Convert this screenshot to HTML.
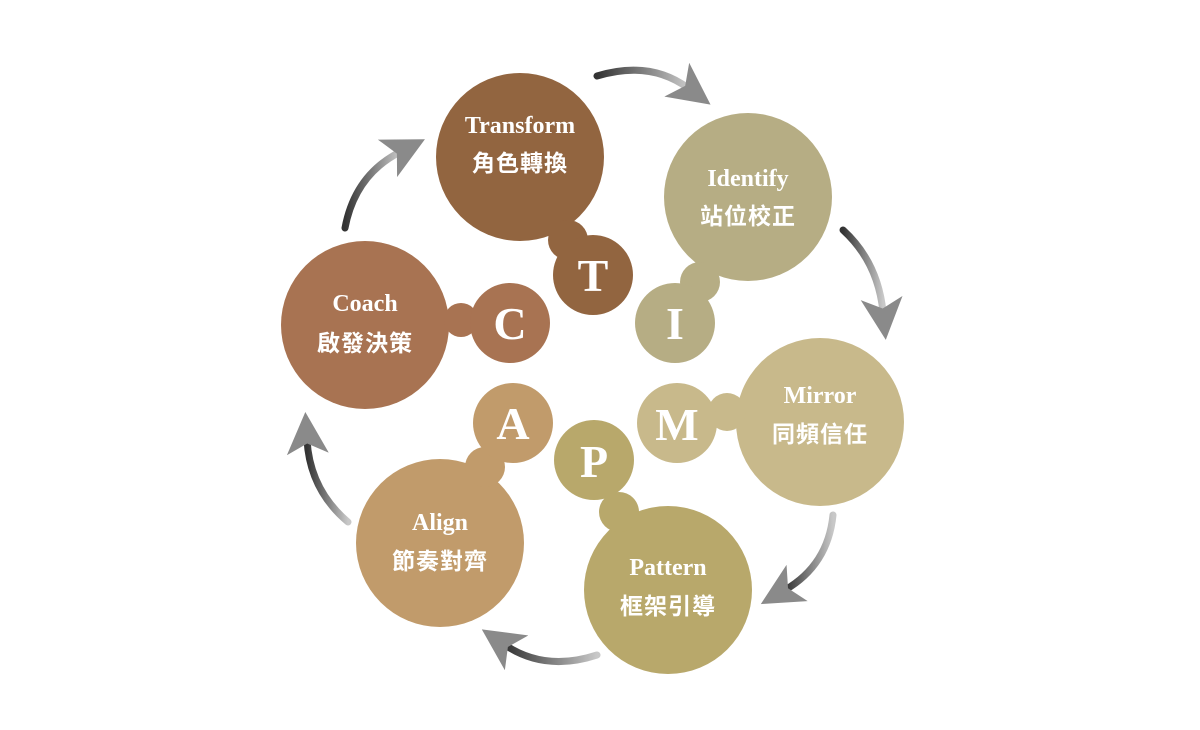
<!DOCTYPE html>
<html><head><meta charset="utf-8"><style>
html,body{margin:0;padding:0;background:#fff;width:1200px;height:730px;overflow:hidden}
svg{display:block}
.en{font-family:"Liberation Serif",serif;font-weight:bold;font-size:24px;fill:#fff}
.zh{font-family:"Liberation Sans","Noto Sans CJK TC",sans-serif;font-weight:bold;font-size:23px;fill:#fff;letter-spacing:1px}
.L{font-family:"Liberation Serif",serif;font-weight:bold;font-size:46px;fill:#fff}
</style></head><body>
<svg width="1200" height="730" viewBox="0 0 1200 730">
<defs>
<linearGradient id="g1" x1="0" y1="0" x2="1" y2="0"><stop offset="0" stop-color="#333"/><stop offset="1" stop-color="#c8c8c8"/></linearGradient>
<marker id="h" markerWidth="6" markerHeight="6" refX="2" refY="3" orient="auto" markerUnits="strokeWidth"><path d="M0,0 L6,3 L0,6 L1.5,3 Z" fill="#8a8a8a"/></marker>
</defs>
<g fill="none" stroke="url(#g1)" stroke-width="7" stroke-linecap="round">
<path d="M597,76 Q650,60 688,88" marker-end="url(#h)"/>
<path d="M843,230 Q878,262 883,312" marker-end="url(#h)"/>
<path d="M833,515 Q828,565 785,590" marker-end="url(#h)"/>
<path d="M597,655 Q545,672 505,645" marker-end="url(#h)"/>
<path d="M348,522 Q310,490 307,440" marker-end="url(#h)"/>
<path d="M345,228 Q355,175 400,152" marker-end="url(#h)"/>
</g>
<g fill="#926540"><circle cx="520" cy="157" r="84"/><circle cx="568" cy="240" r="20"/><circle cx="593" cy="275" r="40"/></g>
<g fill="#b6ad84"><circle cx="748" cy="197" r="84"/><circle cx="700" cy="282" r="20"/><circle cx="675" cy="323" r="40"/></g>
<g fill="#c8b98b"><circle cx="820" cy="422" r="84"/><circle cx="727" cy="412" r="19"/><circle cx="677" cy="423" r="40"/></g>
<g fill="#b8a86b"><circle cx="668" cy="590" r="84"/><circle cx="619" cy="512" r="20"/><circle cx="594" cy="460" r="40"/></g>
<g fill="#c19b6b"><circle cx="440" cy="543" r="84"/><circle cx="485" cy="467" r="20"/><circle cx="513" cy="423" r="40"/></g>
<g fill="#a87352"><circle cx="365" cy="325" r="84"/><circle cx="461" cy="320" r="17"/><circle cx="510" cy="323" r="40"/></g>
<g text-anchor="middle">
<text class="en" x="520" y="133">Transform</text><text class="zh" x="520" y="171">角色轉換</text>
<text class="en" x="748" y="186">Identify</text><text class="zh" x="748" y="224">站位校正</text>
<text class="en" x="820" y="403">Mirror</text><text class="zh" x="820" y="442">同頻信任</text>
<text class="en" x="668" y="575">Pattern</text><text class="zh" x="668" y="614">框架引導</text>
<text class="en" x="440" y="530">Align</text><text class="zh" x="440" y="569">節奏對齊</text>
<text class="en" x="365" y="311">Coach</text><text class="zh" x="365" y="351">啟發決策</text>
<text class="L" x="593" y="291">T</text>
<text class="L" x="675" y="339">I</text>
<text class="L" x="677" y="440">M</text>
<text class="L" x="594" y="477">P</text>
<text class="L" x="513" y="439">A</text>
<text class="L" x="510" y="339">C</text>
</g>
</svg>
</body></html>
